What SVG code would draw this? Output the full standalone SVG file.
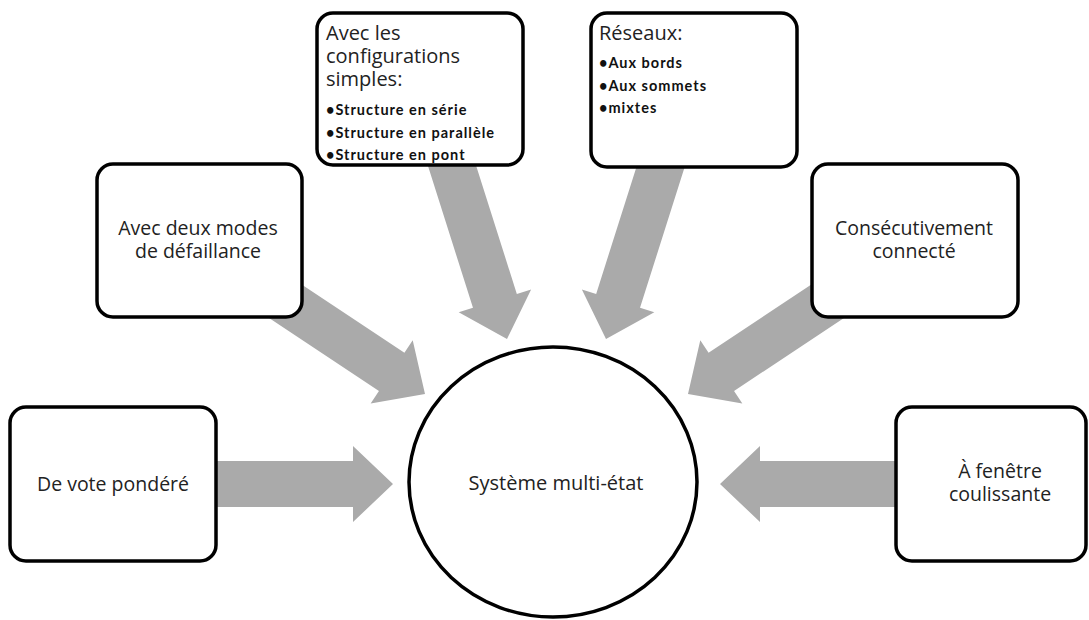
<svg xmlns="http://www.w3.org/2000/svg" width="1089" height="620" viewBox="0 0 1089 620">
  <defs>
    <!-- block arrow pointing along +x, tip at the origin -->
    <polygon id="blockArrow" points="-200,-23 -40,-23 -40,-38 0,0 -40,38 -40,23 -200,23"/>
    <style>
      .arrow { fill: #aaaaaa; }
      .box { fill: #ffffff; stroke: #000000; stroke-width: 3.5; }
      .label { font-family: "Open Sans", "Noto Sans", sans-serif; font-size: 19.5px; fill: #222222; }
      .head { font-family: "Open Sans", "Noto Sans", sans-serif; font-size: 20px; fill: #222222; }
      .bullet { font-family: Lato, "Open Sans", sans-serif; font-weight: bold; font-size: 14.5px; letter-spacing: 1px; fill: #111111; }
      .mid { text-anchor: middle; }
    </style>
  </defs>
  <rect width="1089" height="620" fill="#ffffff"/>

  <!-- connectors: wide grey block arrows toward the central system -->
  <g id="connectors">
    <use href="#blockArrow" class="arrow" transform="translate(393,484)"/>
    <use href="#blockArrow" class="arrow" transform="translate(425,394) rotate(33.6)"/>
    <use href="#blockArrow" class="arrow" transform="translate(507,339) rotate(72.4)"/>
    <use href="#blockArrow" class="arrow" transform="translate(606,339) rotate(107.6)"/>
    <use href="#blockArrow" class="arrow" transform="translate(688,394) rotate(146.4)"/>
    <use href="#blockArrow" class="arrow" transform="translate(720,484) rotate(180)"/>
  </g>

  <g id="center">
    <ellipse cx="553" cy="482" rx="144" ry="135" fill="#ffffff" stroke="#000000" stroke-width="3.5"/>
    <text class="label mid" x="556" y="490" style="font-size:20px">Système multi-état</text>
  </g>

  <g id="vote">
    <rect class="box" x="10" y="407" width="206" height="154" rx="16"/>
    <text class="label mid" x="113" y="491">De vote pondéré</text>
  </g>

  <g id="deux-modes">
    <rect class="box" x="97" y="164" width="205" height="153" rx="16"/>
    <text class="label mid" x="198" y="235">Avec deux modes</text>
    <text class="label mid" x="198" y="258">de défaillance</text>
  </g>

  <g id="configurations">
    <rect class="box" x="317" y="13" width="206" height="152" rx="16"/>
    <text class="head" x="326" y="40">Avec les</text>
    <text class="head" x="326" y="63">configurations</text>
    <text class="head" x="326" y="86">simples:</text>
    <text class="bullet" x="326" y="115">•Structure en série</text>
    <text class="bullet" x="326" y="138">•Structure en parallèle</text>
    <text class="bullet" x="326" y="160">•Structure en pont</text>
  </g>

  <g id="reseaux">
    <rect class="box" x="591" y="13" width="206" height="154" rx="16"/>
    <text class="head" x="599" y="40">Réseaux:</text>
    <text class="bullet" x="599" y="68">•Aux bords</text>
    <text class="bullet" x="599" y="91">•Aux sommets</text>
    <text class="bullet" x="599" y="113">•mixtes</text>
  </g>

  <g id="consecutif">
    <rect class="box" x="812" y="164" width="206" height="153" rx="16"/>
    <text class="label mid" x="914" y="235">Consécutivement</text>
    <text class="label mid" x="914" y="258">connecté</text>
  </g>

  <g id="fenetre">
    <rect class="box" x="896" y="407" width="190" height="154" rx="16"/>
    <text class="label mid" x="1000" y="478">À  fenêtre</text>
    <text class="label mid" x="1000" y="501">coulissante</text>
  </g>
</svg>
